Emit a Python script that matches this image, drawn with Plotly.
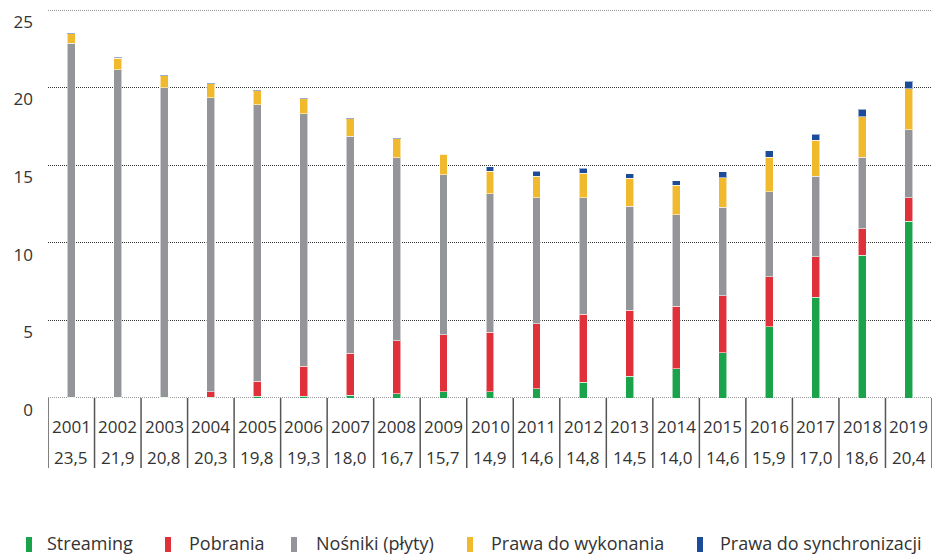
import plotly.graph_objects as go

years = ["2001", "2002", "2003", "2004", "2005", "2006", "2007", "2008", "2009", "2010",
         "2011", "2012", "2013", "2014", "2015", "2016", "2017", "2018", "2019"]
totals = ["23,5", "21,9", "20,8", "20,3", "19,8", "19,3", "18,0", "16,7", "15,7", "14,9",
          "14,6", "14,8", "14,5", "14,0", "14,6", "15,9", "17,0", "18,6", "20,4"]
y_ticks = [0, 5, 10, 15, 20, 25]

streaming = [0.05, 0.05, 0.05, 0.05, 0.1, 0.1, 0.17, 0.28, 0.39, 0.39,
             0.6, 1.0, 1.4, 1.9, 2.9, 4.6, 6.5, 9.2, 11.4]
pobrania = [0.0, 0.0, 0.0, 0.35, 0.98, 1.96, 2.71, 3.4, 3.67, 3.86,
            4.2, 4.4, 4.25, 4.0, 3.7, 3.2, 2.6, 1.7, 1.5]
nosniki = [22.8, 21.1, 19.95, 18.95, 17.8, 16.24, 14.0, 11.8, 10.31, 8.92,
           8.1, 7.5, 6.7, 5.9, 5.7, 5.5, 5.2, 4.6, 4.4]
prawa_wyk = [0.61, 0.74, 0.75, 0.91, 0.91, 0.99, 1.1, 1.21, 1.33, 1.44,
             1.4, 1.59, 1.81, 1.92, 1.89, 2.22, 2.3, 2.63, 2.62]
prawa_sync = [0.05, 0.05, 0.05, 0.05, 0.05, 0.05, 0.05, 0.05, 0.05, 0.28,
              0.3, 0.31, 0.3, 0.28, 0.39, 0.4, 0.41, 0.49, 0.5]

series = [
    ("Streaming", streaming, "#1ba34b"),
    ("Pobrania", pobrania, "#e0313b"),
    ("Nośniki (płyty)", nosniki, "#949599"),
    ("Prawa do wykonania", prawa_wyk, "#f1b92e"),
    ("Prawa do synchronizacji", prawa_sync, "#1c4b9a"),
]

FONT = "Open Sans"
TXT = "#333333"
GRID = "#333333"
DASH = "1px,1px"

W, H = 932, 554
ML, MR, MT, MB = 48, 0, 10, 156
PW = W - ML - MR
PH = H - MT - MB


def px_x(px):
    return (px - ML) / PW


def px_y(py):
    return (H - MB - py) / PH


fig = go.Figure()
for name, vals, col in series:
    fig.add_trace(go.Bar(
        x=years, y=vals, name=name, width=0.17,
        marker=dict(color=col, line=dict(color="rgba(255,255,255,0.55)", width=1)),
        showlegend=False,
    ))

shapes = []
# boundary grid lines (0 and 25), which plotly omits at the plot edges
for v in (y_ticks[0], y_ticks[-1]):
    shapes.append(dict(type="line", xref="paper", yref="y", x0=0, x1=1, y0=v, y1=v,
                       layer="below", line=dict(color=GRID, width=1, dash=DASH)))
# table column separators
for i in range(len(years) + 1):
    shapes.append(dict(type="line", xref="x", yref="paper",
                       x0=i - 0.5, x1=i - 0.5, y0=0, y1=px_y(468),
                       line=dict(color="#555555", width=1.5)))

annotations = []
for i, (yr, tot) in enumerate(zip(years, totals)):
    annotations.append(dict(x=i, y=px_y(426), xref="x", yref="paper", text=yr,
                            showarrow=False, font=dict(family=FONT, size=17, color=TXT),
                            xanchor="center", yanchor="middle"))
    annotations.append(dict(x=i, y=px_y(458), xref="x", yref="paper", text=tot,
                            showarrow=False, font=dict(family=FONT, size=17, color=TXT),
                            xanchor="center", yanchor="middle"))

# manual legend
leg_marker_x = [29, 168, 294, 470, 700]
leg_text_x = [45, 187, 314, 489, 718]
for (name, vals, col), mx, tx in zip(series, leg_marker_x, leg_text_x):
    shapes.append(dict(type="rect", xref="paper", yref="paper",
                       x0=px_x(mx - 3), x1=px_x(mx + 3), y0=px_y(552), y1=px_y(537),
                       fillcolor=col, line=dict(width=0)))
    annotations.append(dict(x=px_x(tx), y=px_y(543), xref="paper", yref="paper", text=name,
                            showarrow=False, font=dict(family=FONT, size=18, color=TXT),
                            xanchor="left", yanchor="middle"))

fig.update_layout(
    barmode="stack",
    width=W, height=H,
    margin=dict(l=ML, r=MR, t=MT, b=MB),
    plot_bgcolor="white", paper_bgcolor="white",
    shapes=shapes, annotations=annotations,
    xaxis=dict(type="category", range=[-0.5, len(years) - 0.5], showticklabels=False,
               showgrid=False, zeroline=False, showline=False, ticks=""),
    yaxis=dict(range=[0, 25], tickvals=y_ticks, showgrid=True,
               gridcolor=GRID, griddash=DASH, gridwidth=1, zeroline=False,
               showline=False, ticks="", ticklabelposition="outside bottom",
               ticklabelstandoff=14,
               tickfont=dict(family=FONT, size=17, color=TXT)),
    font=dict(family=FONT, color=TXT),
)

fig.write_html("out.html")
